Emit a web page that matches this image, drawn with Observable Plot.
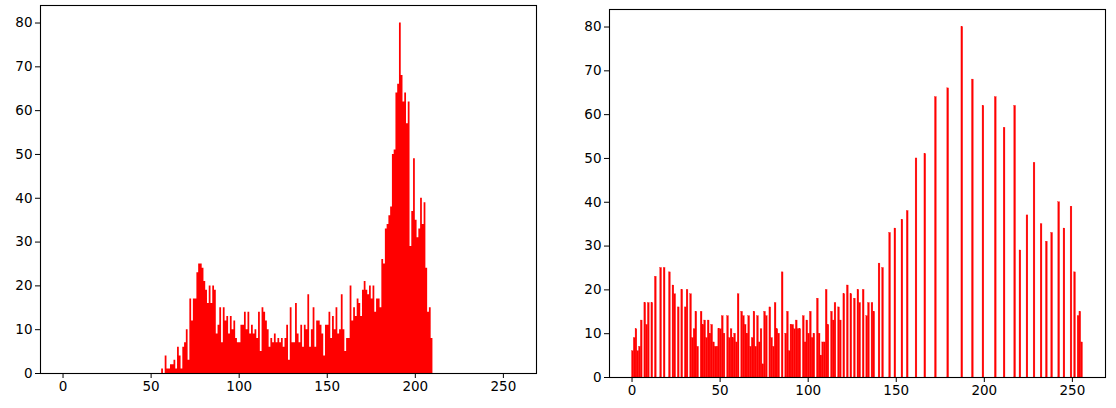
<!DOCTYPE html>
<html><head><meta charset="utf-8">
<script src="https://cdn.jsdelivr.net/npm/d3@7"></script>
<script src="https://cdn.jsdelivr.net/npm/@observablehq/plot@0.6"></script>
<style>
html,body{margin:0;padding:0;background:#fff;}
#wrap{display:flex;width:1116px;height:408px;}
#wrap svg{display:block;}
</style></head><body><div id="wrap"></div>
<script>
// Left: original grey-level histogram, bins 56..209
const originalStart = 56;
const originalCounts = [
  1,0,4,1,1,2,2,3,1,6,
  4,1,6,7,10,3,17,12,17,17,
  23,25,25,24,21,19,16,20,16,20,
  19,9,11,15,7,15,12,13,9,13,
  10,12,8,7,7,11,11,14,10,14,
  9,11,9,10,8,14,5,15,14,12,
  10,6,8,7,9,7,8,7,8,6,
  8,11,3,15,7,7,16,9,7,11,
  6,11,10,18,6,10,15,6,12,12,
  11,9,4,11,11,14,8,13,10,15,
  9,10,18,10,5,8,8,20,12,15,
  13,17,16,13,19,21,19,18,20,17,
  20,14,17,17,15,26,25,33,34,36,
  38,50,51,64,66,80,68,62,64,57,
  62,29,37,49,35,31,33,40,34,39,
  24,14,15,8
];
// Right: equalized histogram (occupied bins only)
const equalizedBins = [
  0,1,2,3,4,5,7,8,9,11,
  13,16,18,21,23,24,26,28,30,31,
  33,34,35,36,37,39,40,41,42,43,
  44,45,46,47,48,49,50,51,52,54,
  55,56,57,58,59,60,62,63,64,65,
  66,67,68,69,70,71,72,73,74,75,
  76,78,79,80,81,82,83,85,87,88,
  89,90,91,92,93,94,95,97,98,99,
  100,101,102,103,105,106,107,108,109,110,
  111,113,114,115,117,118,120,122,124,126,
  128,129,131,133,134,136,137,140,142,146,
  149,153,156,161,166,172,179,187,193,199,
  206,211,217,220,224,228,232,235,238,242,
  245,249,251,253,254,255
];
const equalizedCounts = [
  6,9,11,6,7,13,17,12,17,17,
  23,25,25,24,21,19,16,20,16,20,
  19,9,11,15,7,15,12,13,9,13,
  10,12,8,7,7,11,11,14,10,14,
  9,11,9,10,8,19,15,14,12,10,
  14,7,9,15,7,14,8,11,3,15,
  14,16,9,7,17,11,10,24,10,15,
  6,12,12,11,13,11,11,14,8,13,
  10,15,9,10,18,10,5,8,8,20,
  12,15,13,17,16,13,19,21,19,18,
  20,17,20,14,17,17,15,26,25,33,
  34,36,38,50,51,64,66,80,68,62,
  64,57,62,29,37,49,35,31,33,40,
  34,39,24,14,15,8
];
const xTicks = [0,50,100,150,200,250];
const yTicks = [0,10,20,30,40,50,60,70,80];

// step outline for the contiguous left histogram (closing point at the last bin's right edge)
const leftData = originalCounts.map((c,i)=>({bin: originalStart+i, count: c}));
leftData.push({bin: originalStart + originalCounts.length, count: 0});
const rightData = equalizedBins.map((b,i)=>({bin: b, count: equalizedCounts[i]}));

function frameAxes() {
  return [
    Plot.frame({stroke: "#000", strokeWidth: 1.1}),
    Plot.axisX({ticks: xTicks, tickSize: 5, tickPadding: 3, label: null, tickFormat: d=>String(d)}),
    Plot.axisY({ticks: yTicks, tickSize: 5, tickPadding: 3, label: null, tickFormat: d=>String(d)})
  ];
}
const common = {
  width: 558, height: 408,
  style: {fontFamily: "'DejaVu Sans', sans-serif", fontSize: "13.5px", color: "#000", background: "#fff"},
  x: {domain: [-12.8, 268.8]},
  y: {domain: [0, 84]}
};
const left = Plot.plot({
  ...common,
  marginLeft: 40, marginRight: 22, marginTop: 5, marginBottom: 35,
  marks: [
    Plot.areaY(leftData, {x: "bin", y: "count", curve: "step-after", fill: "#ff0000"}),
    ...frameAxes()
  ]
});
const right = Plot.plot({
  ...common,
  marginLeft: 51, marginRight: 11, marginTop: 9, marginBottom: 31,
  marks: [
    Plot.rect(rightData, {x1: "bin", x2: d=>d.bin+1, y1: d=>0, y2: "count", fill: "#ff0000", stroke: "#ff0000", strokeWidth: 0.3}),
    ...frameAxes()
  ]
});
const wrap = document.getElementById("wrap");
wrap.appendChild(left);
wrap.appendChild(right);
</script></body></html>
